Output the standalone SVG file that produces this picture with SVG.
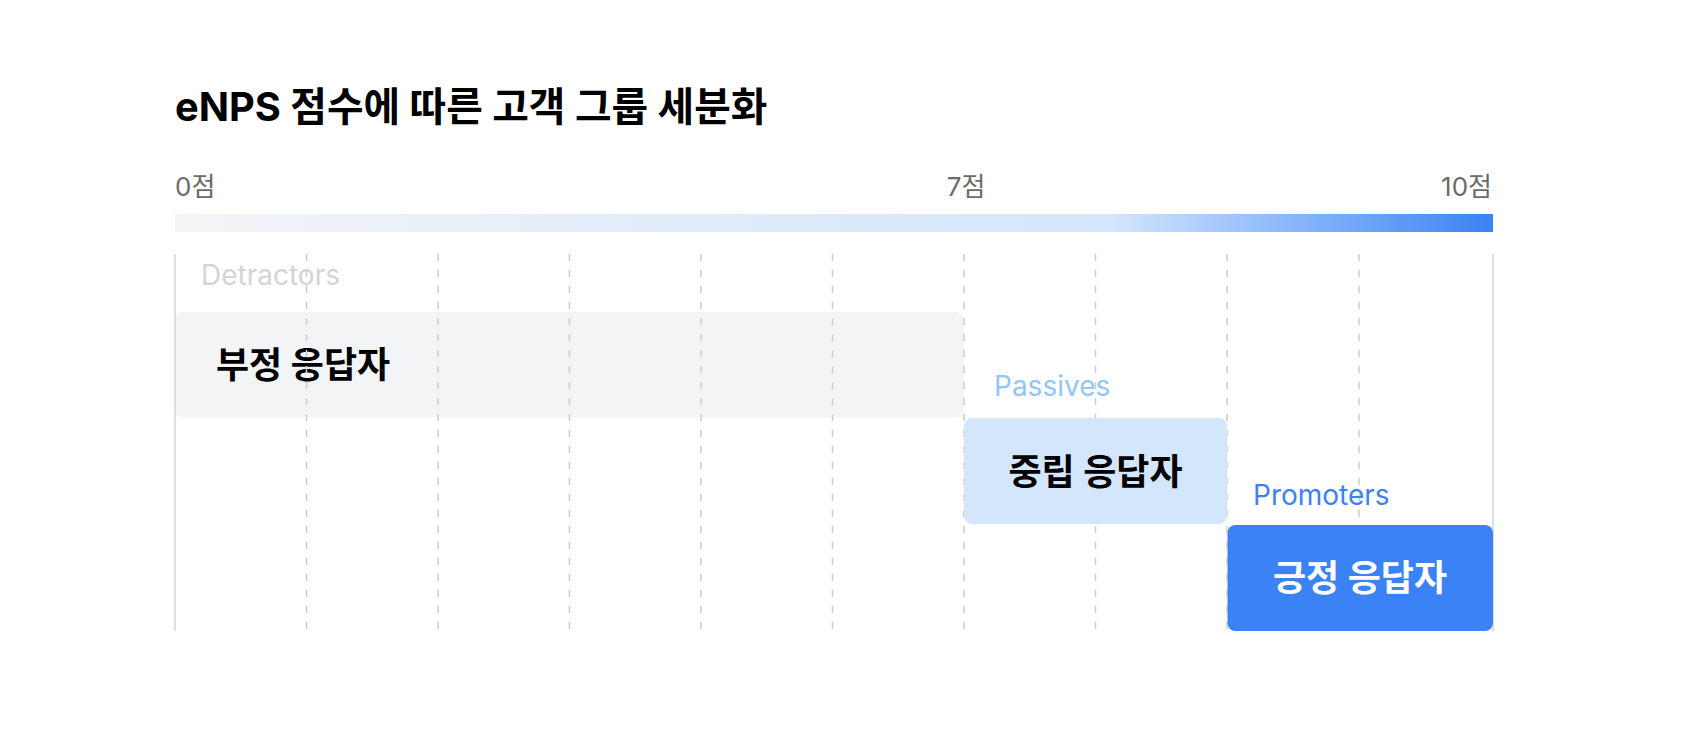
<svg xmlns="http://www.w3.org/2000/svg" width="1698" height="753" viewBox="0 0 1698 753">
  <style>
    text { font-family: Inter, "Noto Sans CJK KR", sans-serif; }
    .title { font-size: 39.8px; font-weight: 700; fill: #000000; }
    .axis { font-size: 26px; font-weight: 400; fill: #6b6b6b; }
    .tag { font-size: 28px; font-weight: 400; }
    .boxlabel { font-size: 36px; font-weight: 700; }
    .dash { stroke: #cccccc; stroke-width: 1.5; stroke-dasharray: 7 9; fill: none; }
    .solid { stroke: #d1d5db; stroke-width: 1.5; fill: none; }
  </style>
  <defs>
    <linearGradient id="scale" x1="0" y1="0" x2="1" y2="0">
      <stop offset="0" stop-color="#f3f4f6"/>
      <stop offset="0.71" stop-color="#d2e6fd"/>
      <stop offset="1" stop-color="#3b82f6"/>
    </linearGradient>
  </defs>
  <rect width="1698" height="753" fill="#ffffff"/>

  <g id="title">
    <text class="title" x="175" y="121">eNPS 점수에 따른 고객 그룹 세분화</text>
  </g>

  <g id="scale-bar">
    <text class="axis" x="175" y="196">0점</text>
    <text class="axis" x="966" y="196" text-anchor="middle">7점</text>
    <text class="axis" x="1492" y="196" text-anchor="end">10점</text>
    <rect x="175" y="214" width="1318" height="18" fill="url(#scale)"/>
  </g>

  <g id="detractors">
    <text class="tag" x="201" y="285" fill="#d4d4d4">Detractors</text>
    <rect x="175" y="312" width="789" height="105.5" rx="8" fill="#f3f4f6"/>
    <text class="boxlabel" x="216" y="378" fill="#000000">부정 응답자</text>
  </g>

  <g id="grid">
    <line class="solid" x1="175" y1="254" x2="175" y2="631"/>
    <line class="dash" x1="306.5" y1="254" x2="306.5" y2="631"/>
    <line class="dash" x1="438" y1="254" x2="438" y2="631"/>
    <line class="dash" x1="569.5" y1="254" x2="569.5" y2="631"/>
    <line class="dash" x1="701" y1="254" x2="701" y2="631"/>
    <line class="dash" x1="832.5" y1="254" x2="832.5" y2="631"/>
    <line class="dash" x1="964" y1="254" x2="964" y2="631"/>
    <line class="dash" x1="1095.5" y1="254" x2="1095.5" y2="631"/>
    <line class="dash" x1="1227" y1="254" x2="1227" y2="631"/>
    <line class="dash" x1="1359" y1="254" x2="1359" y2="631"/>
    <line class="solid" x1="1493" y1="254" x2="1493" y2="631"/>
  </g>

  <g id="passives">
    <text class="tag" x="994" y="396" fill="#93c5fd">Passives</text>
    <rect x="964" y="418" width="263" height="106" rx="8" fill="#d3e6fc"/>
    <text class="boxlabel" x="1095.5" y="484.5" text-anchor="middle" fill="#000000">중립 응답자</text>
  </g>

  <g id="promoters">
    <text class="tag" x="1253" y="505" fill="#3b82f6">Promoters</text>
    <rect x="1227.5" y="525" width="265.5" height="106" rx="8" fill="#3b82f6"/>
    <text class="boxlabel" x="1360" y="591" text-anchor="middle" fill="#ffffff">긍정 응답자</text>
  </g>
</svg>
